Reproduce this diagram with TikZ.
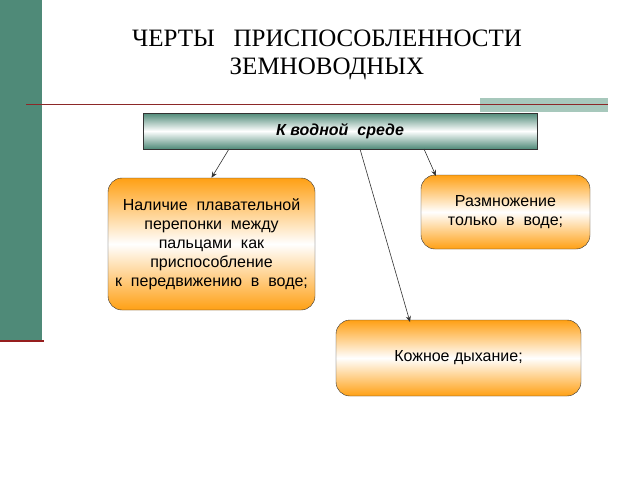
\documentclass[tikz,border=0pt]{standalone}
\usepackage{fontspec}
\setmainfont{Liberation Serif}
\setsansfont{Liberation Sans}
\usetikzlibrary{arrows.meta}
\definecolor{bar}{RGB}{79,138,120}
\definecolor{barline}{RGB}{150,30,30}
\definecolor{pale}{RGB}{167,200,188}
\definecolor{rule}{RGB}{140,40,40}
\definecolor{org}{RGB}{255,160,20}
\begin{document}
\begin{tikzpicture}[x=1pt,y=-1pt,
 ob/.style={draw=black!80,rounded corners=14pt,top color=org,bottom color=org,middle color=white,font=\sffamily\fontsize{16}{19}\selectfont,align=center,inner sep=0},
 arr/.style={-{Stealth[length=6pt,width=5pt]},black!80,line width=0.6pt}]
\useasboundingbox (0,0) rectangle (640,480);
\fill[white] (0,0) rectangle (640,480);
\fill[bar] (0,0) rectangle (42,340);
\draw[barline,line width=1.5pt] (0,341) -- (44,341);
\fill[pale] (480,98) rectangle (608,112);
\draw[rule,line width=1pt] (26,104) -- (608,104);
\node[font=\fontsize{25}{28}\selectfont,align=center] (title) at (327,55) {ЧЕРТЫ\ \ \ ПРИСПОСОБЛЕННОСТИ\\ЗЕМНОВОДНЫХ};
\node[draw=black!80,minimum width=394pt,minimum height=36pt,inner sep=0,top color=bar,bottom color=bar,middle color=white,font=\sffamily\bfseries\itshape\fontsize{16}{19}\selectfont] (top) at (340,131) {К водной\ \ среде};
\node[ob,minimum width=207pt,minimum height=132pt] (left) at (211.5,244) {Наличие\ \ плавательной\\ перепонки\ \ между\\ пальцами\ \ как\\ приспособление\\ к\ \ передвижению\ \ в\ \ воде;};
\node[ob,minimum width=169pt,minimum height=74pt] (right) at (505.5,212) {Размножение\\ только\ \ в\ \ воде;};
\node[ob,minimum width=245pt,minimum height=76pt] (bottom) at (458.5,358) {Кожное дыхание;};
\coordinate (a1) at (229,149);
\coordinate (a2) at (360,149);
\coordinate (a3) at (424,149);
\coordinate (b2) at (410,322);
\coordinate (b3) at (436,176);
\draw[arr] (a1) -- (left.north);
\draw[arr] (a2) -- (b2);
\draw[arr] (a3) -- (b3);
\end{tikzpicture}
\end{document}
